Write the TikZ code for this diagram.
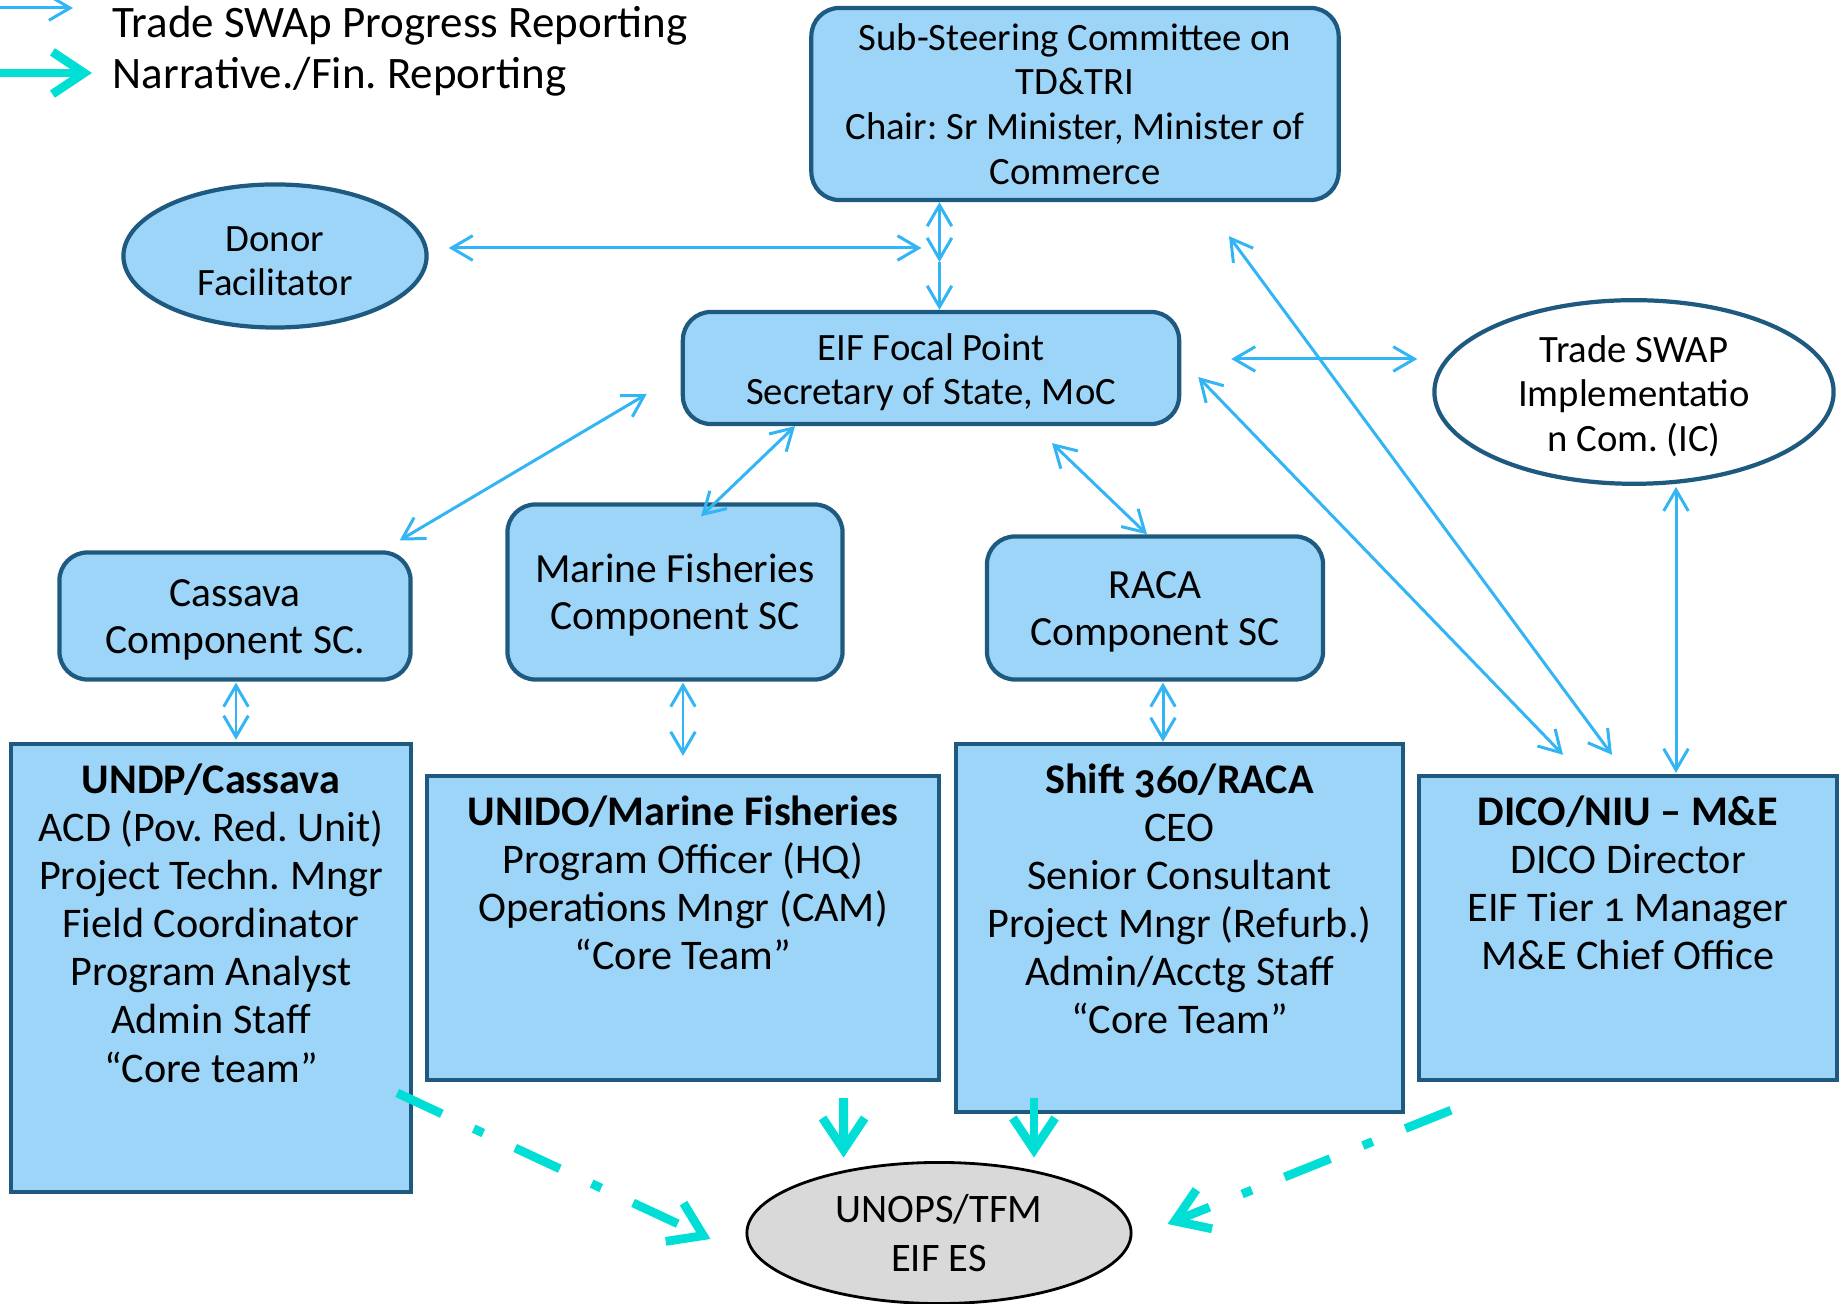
\documentclass[tikz,border=0pt]{standalone}
\usepackage{fontspec}
\setmainfont{Carlito}[Numbers=OldStyle]
\usetikzlibrary{shapes.geometric, arrows.meta, calc}
\frenchspacing

\definecolor{boxfill}{RGB}{157,213,248}
\definecolor{boxline}{RGB}{30,90,128}
\definecolor{linkblue}{RGB}{51,181,245}
\definecolor{narrcyan}{RGB}{0,222,214}
\definecolor{unopsgray}{RGB}{217,217,217}

\newcommand{\mainsize}{\fontsize{11}{12.7}\selectfont}
\newcommand{\midsize}{\fontsize{11.8}{13.5}\selectfont}
\newcommand{\staffsize}{\fontsize{12}{13.7}\selectfont}
\newcommand{\legendsize}{\fontsize{12.8}{14}\selectfont}
\newcommand{\topstrut}{\rule{0pt}{10pt}}

\tikzstyle{roundbox} = [rectangle, rounded corners=8pt, draw=boxline, line width=1.2pt, fill=boxfill, align=center, inner sep=0pt]
\tikzstyle{staffbox} = [rectangle, draw=boxline, line width=1.2pt, fill=boxfill, inner sep=0pt]
\tikzstyle{stafftext} = [anchor=north, align=center, inner sep=0pt, font=\staffsize]
\tikzstyle{bluebubble} = [ellipse, draw=boxline, line width=1.2pt, fill=boxfill, align=center, inner sep=0pt]
\tikzstyle{whitebubble} = [ellipse, draw=boxline, line width=1.2pt, fill=white, align=center, inner sep=0pt]
\tikzstyle{graybubble} = [ellipse, draw=black, line width=0.8pt, fill=unopsgray, align=center, inner sep=0pt, font=\fontsize{11.5}{13.8}\selectfont]
\tikzstyle{legendtext} = [anchor=west, inner sep=0pt, font=\legendsize]
\tikzstyle{link} = [draw=linkblue, line width=0.85pt, <->, >={Straight Barb[length=6pt,width=7pt]}]
\tikzstyle{narrative} = [draw=narrcyan, line width=2.5pt, ->, >={Straight Barb[length=9pt,width=12pt]}]
\tikzstyle{narrdash} = [dash pattern=on 14pt off 10pt on 3pt off 10pt]

\begin{document}
\begin{tikzpicture}[x=0.01cm, y=-0.01cm, font=\mainsize]
\useasboundingbox (0,0) rectangle (1841,1304);

% legend
\coordinate (progstart) at (0,8);
\coordinate (progend) at (73,8);
\coordinate (narrstart) at (0,73);
\coordinate (narrend) at (92,73);
\node at (112,26) (legprog) [legendtext] {Trade SWAp Progress Reporting};
\node at (112,77) (legnarr) [legendtext] {Narrative./Fin. Reporting};
\draw [link, ->] (progstart) -- (progend);
\draw [narrative] (narrstart) -- (narrend);

% committees
\node at (1075,104) (ssc) [roundbox, minimum width=5.27cm, minimum height=1.92cm] {Sub-Steering Committee on\\TD\&TRI\\Chair: Sr Minister, Minister of\\Commerce};
\node at (275,256) (donor) [bluebubble, minimum width=3.03cm, minimum height=1.43cm] {\topstrut Donor\\Facilitator};
\node at (931,368) (eif) [roundbox, minimum width=4.96cm, minimum height=1.12cm] {\topstrut EIF Focal Point\\Secretary of State, MoC};
\node at (1634,392) (tswap) [whitebubble, minimum width=3.99cm, minimum height=1.60cm] {\topstrut Trade SWAP\\Implementatio\\n Com. (IC)};
\node at (235,616) (cassava) [roundbox, font=\midsize, minimum width=3.51cm, minimum height=1.27cm] {\topstrut Cassava\\Component SC.};
\node at (675,592) (marine) [roundbox, font=\midsize, minimum width=3.35cm, minimum height=1.75cm] {\topstrut Marine Fisheries\\Component SC};
\node at (1155,608) (raca) [roundbox, font=\midsize, minimum width=3.36cm, minimum height=1.43cm] {\topstrut RACA\\Component SC};

% implementing teams
\node at (211,968) (undp) [staffbox, minimum width=4.00cm, minimum height=4.48cm] {};
\node at (683,928) (unido) [staffbox, minimum width=5.12cm, minimum height=3.04cm] {};
\node at (1179.5,928) (shift) [staffbox, minimum width=4.47cm, minimum height=3.68cm] {};
\node at (1628,928) (dico) [staffbox, minimum width=4.18cm, minimum height=3.04cm] {};
\node at ($(undp.north)+(0,21)$) (undptext) [stafftext] {\textbf{UNDP/Cassava}\\ACD (Pov. Red. Unit)\\Project Techn. Mngr\\Field Coordinator\\Program Analyst\\Admin Staff\\“Core team”};
\node at ($(unido.north)+(0,21)$) (unidotext) [stafftext] {\textbf{UNIDO/Marine Fisheries}\\Program Officer (HQ)\\Operations Mngr (CAM)\\“Core Team”};
\node at ($(shift.north)+(0,21)$) (shifttext) [stafftext] {\textbf{Shift 360/RACA}\\CEO\\Senior Consultant\\Project Mngr (Refurb.)\\Admin/Acctg Staff\\“Core Team”};
\node at ($(dico.north)+(0,21)$) (dicotext) [stafftext] {\textbf{DICO/NIU -- M\&E}\\DICO Director\\EIF Tier 1 Manager\\M\&E Chief Office};

\node at (939,1233) (unops) [graybubble, minimum width=3.84cm, minimum height=1.41cm] {UNOPS/TFM\\EIF ES};

% progress reporting
\coordinate (hub) at (939.5,262);
\draw [link] ($(donor.east)+(20,-8)$) -- ($(hub)+(-18,-14)$);
\draw [link] (ssc.south -| hub) -- (hub);
\draw [link, ->] (hub) -- (eif.north -| hub);
\draw [link] ($(eif.west)+(-34,26)$) -- ($(cassava.north east)+(-13,-10)$);
\draw [link] ($(eif.south)+(-136,0)$) -- ($(marine.north)+(26,14)$);
\draw [link] ($(eif.south)+(121,17)$) -- ($(raca.north)+(-8,0)$);
\draw [link] ($(eif.east)+(50,-9)$) -- ($(tswap.west)+(-15,-33)$);
\draw [link] ($(ssc.south)+(154,34)$) -- ($(dico.north)+(-16,-19)$);
\draw [link] ($(eif.east)+(17,9)$) -- ($(dico.north)+(-65,-19)$);
\draw [link] ($(tswap.south)+(42,1)$) -- ($(dico.north)+(48,-1)$);
\draw [link] ($(cassava.south)+(1,1)$) -- ($(undp.north)+(25,-2)$);
\draw [link] ($(marine.south)+(8,1)$) -- ($(unido.north)+(0,-18)$);
\draw [link] ($(raca.south)+(8,1)$) -- ($(shift.north)+(-16.5,0)$);

% narrative / financial reporting
\draw [narrative, narrdash] ($(undp.east)+(-16,125)$) -- ($(unops.west)+(-35,6)$);
\draw [narrative] ($(unido.south)+(160.6,16)$) -- ($(unops.north)+(-95.4,-3.5)$);
\draw [narrative] ($(shift.south)+(-145.5,-16)$) -- ($(unops.north)+(95,-3.5)$);
\draw [narrative, narrdash] ($(dico.south)+(-177,28)$) -- ($(unops.east)+(35,-9)$);

\end{tikzpicture}
\end{document}
